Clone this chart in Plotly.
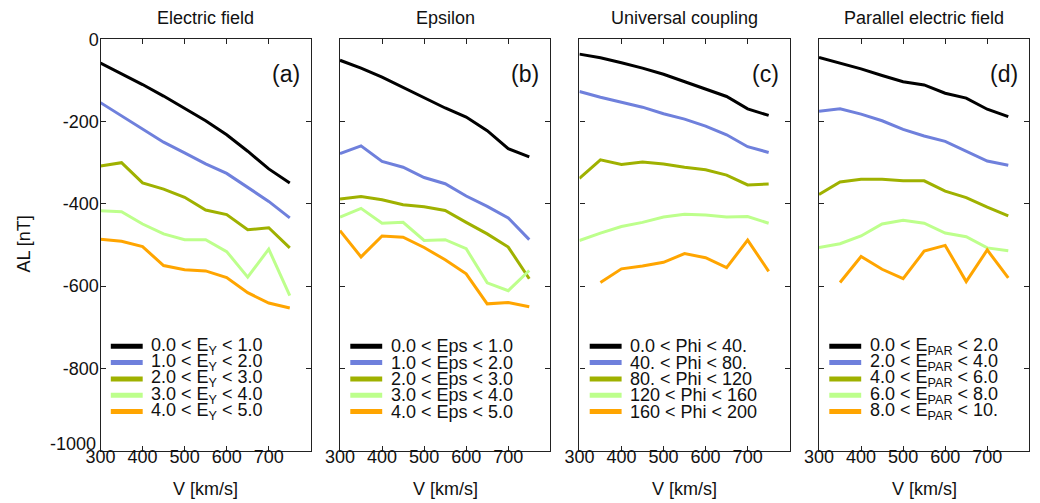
import plotly.graph_objects as go

# ---------------- data ----------------
V_KMS = [300, 350, 400, 450, 500, 550, 600, 650, 700, 750]

# Panel (a): Electric field bins
ey_0_1 = [-58, -83, -110, -138, -169, -198, -232, -272, -315, -349]
ey_1_2 = [-154, -186, -218, -250, -276, -303, -326, -360, -394, -434]
ey_2_3 = [-308, -300, -349, -364, -384, -415, -426, -463, -458, -507]
ey_3_4 = [-417, -419, -449, -473, -487, -487, -516, -578, -510, -623]
ey_4_5 = [-486, -491, -504, -550, -560, -563, -579, -616, -641, -653]

# Panel (b): Epsilon bins
eps_1 = [-51, -70, -92, -117, -141, -167, -189, -222, -266, -286]
eps_2 = [-278, -259, -297, -311, -336, -351, -381, -406, -434, -487]
eps_3 = [-388, -382, -390, -402, -407, -416, -445, -473, -505, -582]
eps_4 = [-432, -411, -447, -445, -489, -487, -509, -592, -611, -562]
eps_5 = [-465, -529, -478, -481, -506, -536, -570, -643, -640, -650]

# Panel (c): Universal coupling bins
phi_1 = [-36, -45, -57, -70, -85, -103, -122, -139, -169, -185]
phi_2 = [-127, -141, -153, -165, -181, -194, -211, -232, -261, -275]
phi_3 = [-338, -293, -304, -298, -303, -311, -317, -330, -354, -352]
phi_4 = [-489, -471, -455, -445, -432, -425, -427, -432, -431, -447]
phi_5 = [None, -591, -558, -551, -542, -521, -531, -555, -488, -564]

# Panel (d): Parallel electric field bins
epar_1 = [-44, -58, -72, -88, -103, -111, -131, -143, -170, -188]
epar_2 = [-175, -169, -182, -198, -219, -235, -248, -272, -296, -306]
epar_3 = [-377, -347, -340, -340, -344, -344, -369, -385, -408, -429]
epar_4 = [-506, -497, -478, -449, -440, -447, -471, -480, -507, -514]
epar_5 = [None, -591, -528, -559, -582, -515, -501, -589, -512, -580]

PANEL_TITLES = ["Electric field", "Epsilon", "Universal coupling", "Parallel electric field"]
PANEL_TAGS = ["(a)", "(b)", "(c)", "(d)"]

LEG_EY = ["0.0 < E<sub>Y</sub> < 1.0", "1.0 < E<sub>Y</sub> < 2.0", "2.0 < E<sub>Y</sub> < 3.0",
          "3.0 < E<sub>Y</sub> < 4.0", "4.0 < E<sub>Y</sub> < 5.0"]
LEG_EPS = ["0.0 < Eps < 1.0", "1.0 < Eps < 2.0", "2.0 < Eps < 3.0",
           "3.0 < Eps < 4.0", "4.0 < Eps < 5.0"]
LEG_PHI = ["0.0 < Phi < 40.", "40. < Phi < 80.", "80. < Phi < 120",
           "120 < Phi < 160", "160 < Phi < 200"]
LEG_EPAR = ["0.0 < E<sub>PAR</sub> < 2.0", "2.0 < E<sub>PAR</sub> < 4.0", "4.0 < E<sub>PAR</sub> < 6.0",
            "6.0 < E<sub>PAR</sub> < 8.0", "8.0 < E<sub>PAR</sub> < 10."]

X_TICKVALS = [300, 400, 500, 600, 700]
X_TICKTEXT = ["300", "400", "500", "600", "700"]
Y_TICKVALS = [0, -200, -400, -600, -800, -1000]
Y_TICKTEXT = ["0", "-200", "-400", "-600", "-800", "-1000"]

COLORS = ["#000000", "#6f80dc", "#9fb100", "#bdff8c", "#ffa500"]

panels = [
    ([ey_0_1, ey_1_2, ey_2_3, ey_3_4, ey_4_5], LEG_EY),
    ([eps_1, eps_2, eps_3, eps_4, eps_5], LEG_EPS),
    ([phi_1, phi_2, phi_3, phi_4, phi_5], LEG_PHI),
    ([epar_1, epar_2, epar_3, epar_4, epar_5], LEG_EPAR),
]

# ---------------- layout geometry (pixels) ----------------
W, H = 1040, 503
FONT = "Liberation Sans, Arial, Helvetica, sans-serif"
FS = 18
PLOT_LEFTS = [100.5, 340.0, 579.4, 819.0]
PLOT_W = 210.3
PLOT_TOP, PLOT_BOTTOM = 39.3, 450.7


def px_x(px):
    return px / W


def px_y(py):
    return 1 - py / H


fig = go.Figure()
annotations = []
shapes = []

# the lowest y label is lifted slightly off the corner (as in the original), so it is
# drawn as an annotation anchored to its tick value instead of as a regular tick label
y_ticktext_axis = Y_TICKTEXT[:-1] + [""]

for p, (series, labels) in enumerate(panels):
    ax = "" if p == 0 else str(p + 1)
    for s, vals in enumerate(series):
        fig.add_trace(go.Scatter(
            x=V_KMS, y=vals, mode="lines",
            line=dict(color=COLORS[s], width=3),
            xaxis="x" + ax, yaxis="y" + ax,
            showlegend=False, hoverinfo="x+y",
        ))
    left = PLOT_LEFTS[p]
    right = left + PLOT_W
    fig.update_layout(**{
        "xaxis" + ax: dict(
            domain=[px_x(left), px_x(right)], range=[300, 800],
            tickvals=X_TICKVALS, ticktext=X_TICKTEXT,
            ticks="inside", ticklen=5, tickcolor="#222", mirror="ticks",
            showline=True, linecolor="#222", linewidth=1.3,
            showgrid=False, zeroline=False, anchor="y" + ax,
            automargin=False, ticklabelstandoff=-10,
            tickfont=dict(family=FONT, size=FS, color="#111"),
        ),
        "yaxis" + ax: dict(
            domain=[px_y(PLOT_BOTTOM), px_y(PLOT_TOP)], range=[-1000, 0],
            tickvals=Y_TICKVALS, ticktext=y_ticktext_axis,
            ticks="inside", ticklen=5, tickcolor="#222", mirror="ticks",
            showline=True, linecolor="#222", linewidth=1.3,
            showgrid=False, zeroline=False, anchor="x" + ax,
            automargin=False, showticklabels=(p == 0), ticklabelstandoff=-3,
            tickfont=dict(family=FONT, size=FS, color="#111"),
        ),
    })
    # panel title
    annotations.append(dict(
        text=PANEL_TITLES[p], x=px_x((left + right) / 2), y=px_y(18),
        xref="paper", yref="paper", xanchor="center", yanchor="middle",
        showarrow=False, font=dict(family=FONT, size=FS, color="#111")))
    # panel tag
    annotations.append(dict(
        text=PANEL_TAGS[p], x=px_x(right - 9), y=px_y(74),
        xref="paper", yref="paper", xanchor="right", yanchor="middle",
        showarrow=False, font=dict(family=FONT, size=23, color="#111")))
    # x-axis title
    annotations.append(dict(
        text="V [km/s]", x=px_x((left + right) / 2), y=px_y(489),
        xref="paper", yref="paper", xanchor="center", yanchor="middle",
        showarrow=False, font=dict(family=FONT, size=FS, color="#111")))
    # legend
    for i, lab in enumerate(labels):
        yy = 346.3 + 16.3 * i
        shapes.append(dict(
            type="line", xref="paper", yref="paper",
            x0=px_x(left + 10.3), x1=px_x(left + 42.2), y0=px_y(yy), y1=px_y(yy),
            line=dict(color=COLORS[i], width=5)))
        annotations.append(dict(
            text=lab, x=px_x(left + 49.5), y=px_y(yy),
            xref="paper", yref="paper", xanchor="left", yanchor="middle",
            showarrow=False, borderpad=0,
            font=dict(family=FONT, size=FS, color="#111")))

# lowest y tick label, lifted off the corner
annotations.append(dict(
    text=Y_TICKTEXT[-1], x=px_x(PLOT_LEFTS[0]), y=Y_TICKVALS[-1],
    xref="paper", yref="y", xanchor="right", yanchor="middle",
    xshift=-4, yshift=7, showarrow=False, borderpad=0,
    font=dict(family=FONT, size=FS, color="#111")))

annotations.append(dict(
    text="AL [nT]", x=px_x(23.5), y=px_y(244), textangle=-90,
    xref="paper", yref="paper", xanchor="center", yanchor="middle",
    showarrow=False, font=dict(family=FONT, size=FS, color="#111")))

fig.update_layout(
    width=W, height=H, autosize=False,
    margin=dict(l=0, r=0, t=0, b=0, pad=0),
    paper_bgcolor="white", plot_bgcolor="white",
    annotations=annotations, shapes=shapes,
    showlegend=False,
    font=dict(family=FONT, size=FS, color="#111"),
)

fig.write_html("out.html", config={"displayModeBar": False})

# remove the browser's default 8px body margin so the figure sits at the page origin
with open("out.html", "r", encoding="utf-8") as fh:
    html = fh.read()
html = html.replace("<body>", '<body style="margin:0;padding:0;overflow:hidden">', 1)
with open("out.html", "w", encoding="utf-8") as fh:
    fh.write(html)
